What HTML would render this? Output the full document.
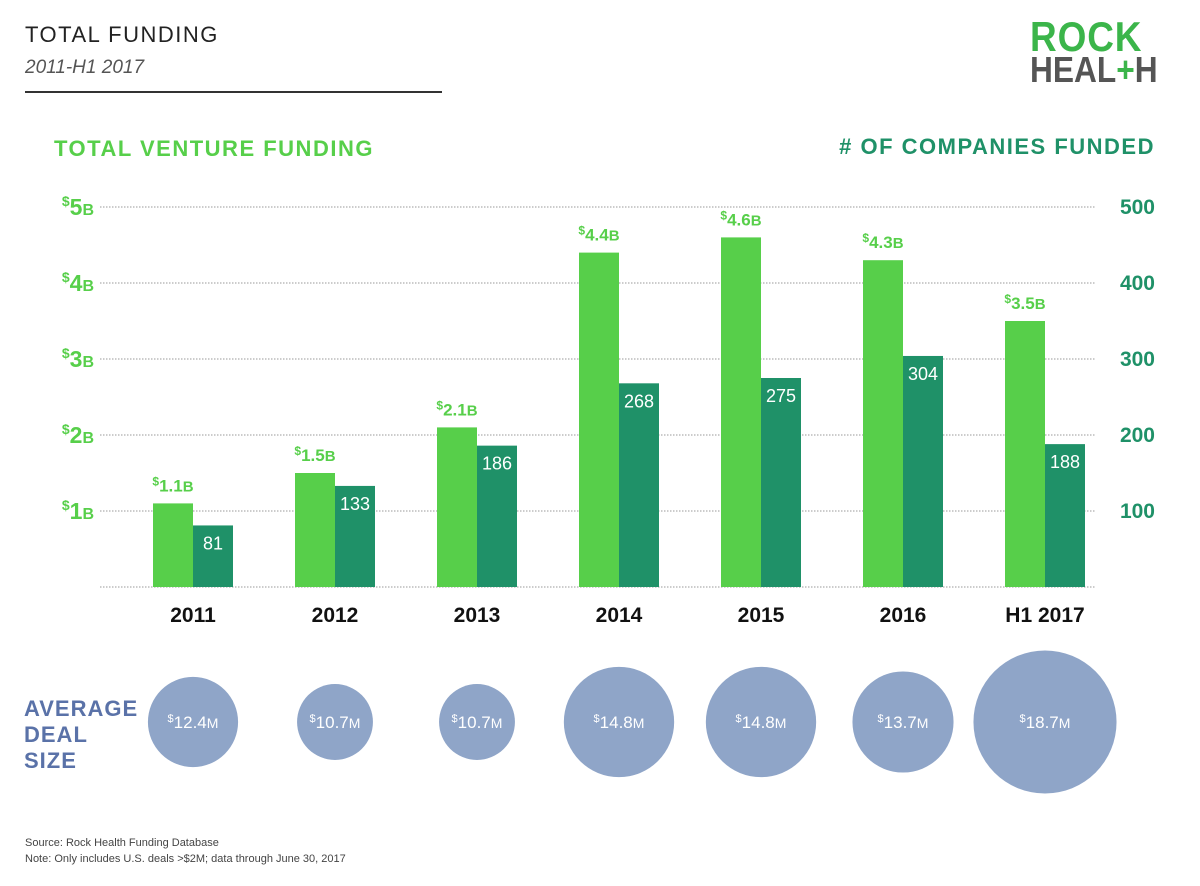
<!DOCTYPE html>
<html><head><meta charset="utf-8"><style>
body{margin:0;background:#fff;font-family:"Liberation Sans",sans-serif;}
#wrap{position:relative;width:1200px;height:886px;overflow:hidden;}
.abs{position:absolute;}
</style></head><body>
<div id="wrap">
<div class="abs" style="left:25px;top:22px;font-size:22px;letter-spacing:1.5px;color:#222;">TOTAL FUNDING</div>
<div class="abs" style="left:25px;top:57px;font-size:19px;font-style:italic;color:#555;">2011-H1 2017</div>
<div class="abs" style="left:25px;top:91px;width:417px;height:2px;background:#333;"></div>
<div class="abs" style="left:1030px;top:20px;font-weight:bold;line-height:33px;transform:scaleX(0.88);transform-origin:left top;">
<div style="font-size:42px;color:#3bb54a;letter-spacing:1px;">ROCK</div>
<div style="font-size:36px;color:#555;">HEAL<span style="color:#3bb54a">+</span>H</div>
</div>
<div class="abs" style="left:54px;top:136px;font-size:22px;font-weight:bold;letter-spacing:1.5px;color:#57cf4a;">TOTAL VENTURE FUNDING</div>
<div class="abs" style="right:45px;top:134px;font-size:22px;font-weight:bold;letter-spacing:1.5px;color:#1f9168;"># OF COMPANIES FUNDED</div>
<svg id="chart" class="abs" style="left:0;top:0" width="1200" height="886"></svg>
<div class="abs" style="left:24px;top:696px;font-size:22px;font-weight:bold;letter-spacing:1px;line-height:26px;color:#5a72a8;">AVERAGE<br>DEAL<br>SIZE</div>
<div class="abs" style="left:25px;top:835px;font-size:11px;color:#444;line-height:16px;">Source: Rock Health Funding Database<br>Note: Only includes U.S. deals &gt;$2M; data through June 30, 2017</div>
</div>
<script>
const categories=["2011","2012","2013","2014","2015","2016","H1 2017"];
const funding=[1.1,1.5,2.1,4.4,4.6,4.3,3.5];
const fundingLabels=["1.1B","1.5B","2.1B","4.4B","4.6B","4.3B","3.5B"];
const companies=[81,133,186,268,275,304,188];
const dealSize=[12.4,10.7,10.7,14.8,14.8,13.7,18.7];
const leftTicks=[1,2,3,4,5];
const rightTicks=[100,200,300,400,500];
const NS="http://www.w3.org/2000/svg";
const svg=document.getElementById('chart');
const base=587,top5=207;
const yL=v=>base-(base-top5)*v/5;
const yR=v=>base-(base-top5)*v/500;
const xC=i=>193+142*i;
const rS=v=>4.2*v-7;
function mk(t,a){const e=document.createElementNS(NS,t);for(const k in a)e.setAttribute(k,a[k]);svg.appendChild(e);return e;}
leftTicks.forEach((t,i)=>{
 const g=mk('line',{x1:100,x2:1095,y1:yL(t),y2:yL(t),stroke:'#999','stroke-dasharray':'1.5 1.5','stroke-width':1});
 
 const l=mk('text',{x:94,y:yL(t)+8,'text-anchor':'end','font-size':23,'font-weight':'bold',fill:'#57cf4a'});
 l.innerHTML='<tspan font-size="14" dy="-9">$</tspan><tspan dy="9">'+t+'</tspan><tspan font-size="16">B</tspan>';
 
});
mk('line',{x1:100,x2:1095,y1:base,y2:base,stroke:'#999','stroke-dasharray':'1.5 1.5'});
rightTicks.forEach(t=>{
 const l=mk('text',{x:1155,y:yR(t)+7,'text-anchor':'end','font-size':21,'font-weight':'bold',fill:'#1f9168'});
 l.textContent=t;
 
});
categories.forEach((c,i)=>{
 const x=xC(i);
 const b1=mk('rect',{x:x-40,y:yL(funding[i]),width:40,height:base-yL(funding[i]),fill:'#57cf4a'});
 
 const b2=mk('rect',{x:x,y:yR(companies[i]),width:40,height:base-yR(companies[i]),fill:'#1f9168'});
 
 const fl=mk('text',{x:x-20,y:yL(funding[i])-12,'text-anchor':'middle','font-size':17,'font-weight':'bold',fill:'#57cf4a'});
 fl.innerHTML='<tspan font-size="12" dy="-6">$</tspan><tspan dy="6">'+fundingLabels[i].slice(0,-1)+'</tspan><tspan font-size="15">B</tspan>';
 
 const cl=mk('text',{x:x+20,y:yR(companies[i])+24,'text-anchor':'middle','font-size':18,fill:'#fff'});
 cl.textContent=companies[i];
 
 const yl=mk('text',{x:x,y:622,'text-anchor':'middle','font-size':21,'font-weight':'bold',fill:'#111'});
 yl.textContent=c;
 
 const ci=mk('circle',{cx:x,cy:722,r:rS(dealSize[i]),fill:'#8fa5c8'});
 
 const dl=mk('text',{x:x,y:728,'text-anchor':'middle','font-size':17,fill:'#fff'});
 dl.innerHTML='<tspan font-size="11" dy="-6">$</tspan><tspan dy="6">'+dealSize[i].toFixed(1)+'</tspan><tspan font-size="14">M</tspan>';
 
});
</script>
</body></html>
